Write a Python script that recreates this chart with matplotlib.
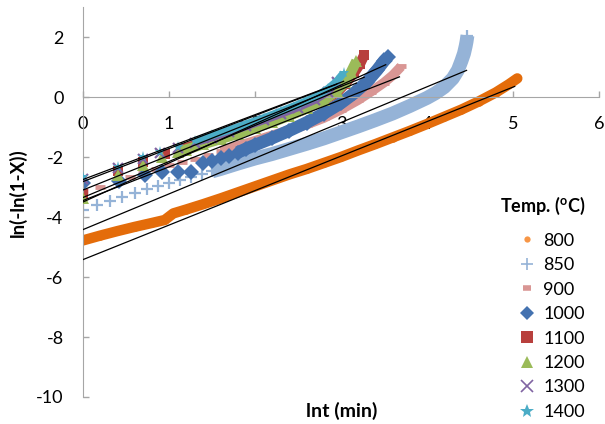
import matplotlib
matplotlib.use("Agg")
import matplotlib.pyplot as plt
from matplotlib.lines import Line2D
from matplotlib.transforms import ScaledTranslation

plt.rcParams['font.family'] = ['Lato', 'DejaVu Sans']
plt.rcParams['axes.unicode_minus'] = False

# ---------------- data ----------------
temps = ['800', '850', '900', '1000', '1100', '1200', '1300', '1400']

x800 = [0, 0.2, 0.4, 0.6, 0.8, 0.95, 1.05, 1.2, 1.4, 1.6, 1.8, 2.0, 2.2, 2.4, 2.6, 2.8,
        3.0, 3.2, 3.4, 3.6, 3.8, 4.0, 4.2, 4.4, 4.6, 4.8, 4.95, 5.05]
y800 = [-4.78, -4.62, -4.47, -4.33, -4.2, -4.1, -3.88, -3.75, -3.57, -3.38, -3.18, -2.98,
        -2.78, -2.58, -2.4, -2.2, -2.0, -1.78, -1.57, -1.35, -1.13, -0.9, -0.66, -0.42,
        -0.15, 0.15, 0.42, 0.62]

x850 = [0, 0.16, 0.31, 0.45, 0.6, 0.74, 0.87, 1.0, 1.13, 1.26, 1.38, 1.5, 1.6, 1.7, 1.8,
        2.0, 2.2, 2.4, 2.6, 2.8, 3.0, 3.2, 3.4, 3.6, 3.8, 4.0, 4.1, 4.2, 4.3, 4.36, 4.4,
        4.43, 4.45, 4.46, 4.47]
y850 = [-3.77, -3.6, -3.45, -3.32, -3.2, -3.07, -2.98, -2.88, -2.77, -2.67, -2.57, -2.48,
        -2.4, -2.31, -2.22, -2.05, -1.9, -1.73, -1.56, -1.38, -1.18, -0.98, -0.77, -0.55,
        -0.3, -0.03, 0.13, 0.33, 0.62, 0.9, 1.2, 1.45, 1.7, 1.85, 2.05]

x900 = [0, 0.2, 0.41, 0.55, 0.7, 0.85, 1.0, 1.15, 1.3, 1.45, 1.6, 1.8, 2.0, 2.2, 2.4, 2.6,
        2.8, 3.0, 3.2, 3.35, 3.5, 3.6, 3.7]
y900 = [-3.12, -3.0, -2.8, -2.67, -2.52, -2.4, -2.27, -2.15, -2.05, -1.93, -1.8, -1.63,
        -1.46, -1.28, -1.1, -0.92, -0.7, -0.42, -0.1, 0.18, 0.48, 0.72, 1.02]

x1000 = [0, 0.42, 0.72, 0.92, 1.1, 1.25, 1.4, 1.5, 1.6, 1.7, 1.8, 1.9, 2.0, 2.2, 2.4, 2.6,
         2.8, 3.0, 3.15, 3.3, 3.42, 3.5, 3.55]
y1000 = [-2.88, -2.8, -2.6, -2.5, -2.5, -2.5, -2.2, -2.12, -2.02, -1.97, -1.85, -1.72,
         -1.6, -1.37, -1.12, -0.85, -0.55, -0.2, 0.12, 0.5, 0.9, 1.2, 1.35]

x1100 = [0, 0.41, 0.7, 0.95, 1.2, 1.4, 1.6, 1.8, 2.0, 2.2, 2.4, 2.6, 2.8, 2.95, 3.05,
         3.15, 3.22, 3.27]
y1100 = [-3.22, -2.45, -2.15, -1.9, -1.7, -1.52, -1.35, -1.17, -0.98, -0.8, -0.6, -0.38,
         -0.1, 0.15, 0.45, 0.8, 1.1, 1.4]

x1200 = [0, 0.41, 0.7, 0.92, 1.1, 1.2, 1.4, 1.6, 1.8, 2.0, 2.2, 2.4, 2.6, 2.8, 2.95, 3.05,
         3.12, 3.18]
y1200 = [-3.35, -2.6, -2.25, -2.0, -1.82, -1.75, -1.57, -1.4, -1.22, -1.03, -0.84, -0.62,
         -0.38, -0.1, 0.2, 0.5, 0.85, 1.2]

x1300 = [0, 0.41, 0.7, 0.9, 1.1, 1.3, 1.5, 1.7, 1.9, 2.1, 2.3, 2.5, 2.7, 2.85, 2.95]
y1300 = [-2.72, -2.35, -2.05, -1.87, -1.7, -1.52, -1.35, -1.17, -0.98, -0.78, -0.57,
         -0.35, -0.1, 0.18, 0.5]

x1400 = [0, 0.41, 0.7, 0.9, 1.1, 1.3, 1.5, 1.7, 1.9, 2.1, 2.3, 2.5, 2.7, 2.85, 2.95, 3.03]
y1400 = [-2.65, -2.33, -2.0, -1.82, -1.65, -1.47, -1.28, -1.1, -0.9, -0.7, -0.48, -0.25,
         0.0, 0.28, 0.52, 0.8]

# linear trendlines: intercept, slope, x-end
trend_a = [-5.42, -4.42, -3.45, -3.5, -3.1, -3.35, -2.82, -2.75]
trend_b = [1.15, 1.19, 1.12, 1.3, 1.15, 1.2, 1.1, 1.08]
trend_xend = [5.02, 4.46, 3.68, 3.52, 3.27, 3.18, 2.95, 3.03]

xs = [x800, x850, x900, x1000, x1100, x1200, x1300, x1400]
ys = [y800, y850, y900, y1000, y1100, y1200, y1300, y1400]

# ---------------- styles ----------------
colors = ['#E46C0A', '#95B3D7', '#D99694', '#4472B0', '#B8403D', '#9BBB59', '#8064A2', '#4BACC6']
leg_colors = ['#F79646', '#95B3D7', '#D99694', '#4472B0', '#B8403D', '#9BBB59', '#8064A2', '#4BACC6']
markers = ['o', '+', '_', 'D', 's', '^', 'x', '*']
msizes = [6, 9, 7, 8, 7.5, 8, 7, 8]
band_from = [0.0, 1.45, 1.5, 1.75, 1.1, 1.1, 1.2, 1.2]
band_lw = [7.5, 10, 7, 9, 7.5, 7.5, 5.5, 5.5]
band_cap = ['round', 'butt', 'butt', 'butt', 'butt', 'butt', 'butt', 'butt']

fig = plt.figure(figsize=(6.05, 4.24), dpi=100)
ax = fig.add_axes([83 / 605, 27 / 424, 516 / 605, 390 / 424])

for i in range(len(temps)):
    x, y = xs[i], ys[i]
    bx = [a for a in x if a >= band_from[i]]
    by = [b for a, b in zip(x, y) if a >= band_from[i]]
    ax.plot(bx, by, color=colors[i], lw=band_lw[i], solid_capstyle=band_cap[i],
            solid_joinstyle='round', zorder=2 + i * 0.1)
    mk = dict(ls='none', marker=markers[i], ms=msizes[i], color=colors[i], zorder=2.05 + i * 0.1)
    if markers[i] in ('+', 'x', '_'):
        mk['mew'] = 1.6 if markers[i] != '_' else 3.5
    else:
        mk['mew'] = 0
    ax.plot(x, y, **mk)

for a, b, xe in zip(trend_a, trend_b, trend_xend):
    ax.plot([0, xe], [a, a + b * xe], color='black', lw=0.9, zorder=5)

ax.set_xlim(0, 6)
ax.set_ylim(-10, 3)
ax.set_xticks(range(0, 7))
ax.set_yticks(range(-10, 3, 2))

gray = '#A6A6A6'
for s in ('top', 'right'):
    ax.spines[s].set_visible(False)
ax.spines['bottom'].set_position(('data', 0))
ax.spines['bottom'].set_color(gray)
ax.spines['left'].set_color(gray)
ax.tick_params(axis='both', direction='in', length=4, width=1, color=gray,
               labelsize=13, labelcolor='black')
ax.tick_params(axis='x', pad=14)
ax.tick_params(axis='y', pad=14)
ax.patch.set_alpha(0)

ax.set_xlabel('lnt (min)', fontsize=14, fontweight='bold')
ax.xaxis.set_label_coords(0.502, -0.012)
ax.set_ylabel('ln(-ln(1-X))', fontsize=13.5, fontweight='bold')
ax.yaxis.set_label_coords(-0.109, 0.523)

handles = []
for i in range(len(temps)):
    kw = dict(ls='none', marker=markers[i], color=leg_colors[i])
    if markers[i] == 'o':
        kw.update(ms=4.5, mew=0)
    elif markers[i] in ('+', 'x'):
        kw.update(ms=9, mew=1.2)
    elif markers[i] == '_':
        kw.update(ms=6, mew=4)
    elif markers[i] == '*':
        kw.update(ms=10, mew=0)
    elif markers[i] == 'D':
        kw.update(ms=7.5, mew=0)
    else:
        kw.update(ms=9, mew=0)
    handles.append(Line2D([], [], **kw))

leg = ax.legend(handles, temps, title='Temp. ($\\mathregular{^{o}}$C)', loc='upper right',
                bbox_to_anchor=(594 / 605, 1 - 193 / 424), bbox_transform=fig.transFigure,
                frameon=False, fontsize=13, title_fontsize=13, handlelength=1.0,
                handletextpad=0.4, labelspacing=0.47, borderpad=0.0, alignment='right')
title = leg.get_title()
title.set_fontweight('bold')
title.set_transform(title.get_transform() + ScaledTranslation(0, 5 / 72, fig.dpi_scale_trans))

fig.savefig('out.png', dpi=100)
